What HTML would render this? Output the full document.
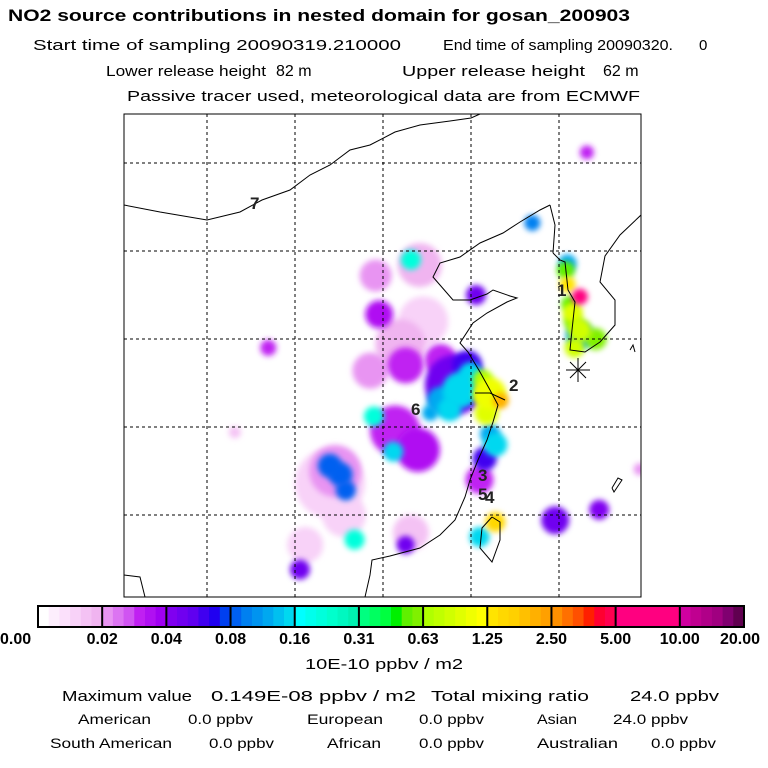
<!DOCTYPE html>
<html><head><meta charset="utf-8"><style>
html,body{margin:0;padding:0;background:#fff;width:768px;height:768px;overflow:hidden}
svg{display:block;font-family:"Liberation Sans",sans-serif}
</style></head><body>
<svg id="chart" width="768" height="768" viewBox="0 0 768 768" xml:space="preserve">
<defs>
<clipPath id="mapclip"><rect x="124" y="114" width="517" height="483"/></clipPath>
<filter id="blur" x="-50%" y="-50%" width="200%" height="200%"><feGaussianBlur stdDeviation="3"/></filter>
</defs>
<g font-size="15">
<text x="8" y="21" font-weight="bold" font-size="16.5" textLength="622" lengthAdjust="spacingAndGlyphs">NO2 source contributions in nested domain for gosan_200903</text>
<text x="33" y="50" textLength="368" lengthAdjust="spacingAndGlyphs">Start time of sampling 20090319.210000</text>
<text x="443" y="50" textLength="230" lengthAdjust="spacingAndGlyphs">End time of sampling 20090320.</text>
<text x="699" y="50">0</text>
<text x="106" y="76" textLength="160" lengthAdjust="spacingAndGlyphs">Lower release height</text>
<text x="276" y="76" font-size="16">82 m</text>
<text x="402" y="76" textLength="183" lengthAdjust="spacingAndGlyphs">Upper release height</text>
<text x="603" y="76" font-size="16">62 m</text>
<text x="127" y="101" textLength="513" lengthAdjust="spacingAndGlyphs">Passive tracer used, meteorological data are from ECMWF</text>
</g>
<g id="plumes" clip-path="url(#mapclip)"></g>
<g clip-path="url(#mapclip)" fill="none" stroke="#000" stroke-width="1">
<polyline points="365,597 370,575 372,560 390,556 420,548 440,535 455,520 465,497 470,480 478,460 487,440 493,422 498,405 490,390 480,372 468,352 460,343 473,323 487,313 507,302 517,298 510,296 493,290 487,294 470,300 453,300 433,277 440,263 460,257 480,243 503,233 520,222 540,210 550,205"/>
<polyline points="553,253 560,260 565,262 568,290 575,302 572,330 570,350 585,352 600,342 615,325 615,300 600,282 605,256 620,235 641,215"/>
<polyline points="124,205 160,212 207,220 240,212 262,200 290,190 310,175 330,165 350,150 370,145 395,132 420,125 450,121 471,118 480,114"/>
<polyline points="550,205 555,225 553,253"/>
<polyline points="492,517 500,522 500,540 492,562 480,548 482,528 492,517"/>
<polyline points="475,393 490,393 505,400"/>
<polyline points="124,575 140,577 145,597"/>
<polyline points="612,488 618,478 622,480 614,492 612,488"/>
<polyline points="630,350 633,345 635,352"/>
</g>
<g stroke="#000" stroke-width="1" stroke-dasharray="3,3">
<line x1="207" y1="114" x2="207" y2="597"/><line x1="295" y1="114" x2="295" y2="597"/><line x1="383" y1="114" x2="383" y2="597"/><line x1="471" y1="114" x2="471" y2="597"/><line x1="559" y1="114" x2="559" y2="597"/>
<line x1="124" y1="163" x2="641" y2="163"/><line x1="124" y1="251" x2="641" y2="251"/><line x1="124" y1="339" x2="641" y2="339"/><line x1="124" y1="427" x2="641" y2="427"/><line x1="124" y1="515" x2="641" y2="515"/>
</g>
<rect x="124" y="114" width="517" height="483" fill="none" stroke="#000" stroke-width="1"/>
<g font-size="17" font-weight="bold" fill="#222">
<text x="557" y="296">1</text>
<text x="509" y="391">2</text>
<text x="478" y="481">3</text>
<text x="478" y="500">5</text>
<text x="485" y="503">4</text>
<text x="411" y="415">6</text>
<text x="250" y="209">7</text>
</g>
<g stroke="#000" stroke-width="1">
<line x1="566" y1="370" x2="590" y2="370"/><line x1="578" y1="358" x2="578" y2="382"/><line x1="570" y1="362" x2="586" y2="378"/><line x1="586" y1="362" x2="570" y2="378"/>
</g>
<g id="colorbar"></g>
<g id="cbticks" font-size="16" font-weight="bold"></g>
<g font-size="15">
<text x="384" y="669" text-anchor="middle" textLength="158" lengthAdjust="spacingAndGlyphs">10E-10 ppbv / m2</text>
<text x="62" y="701" textLength="130" lengthAdjust="spacingAndGlyphs">Maximum value</text>
<text x="211" y="701" textLength="205" lengthAdjust="spacingAndGlyphs">0.149E-08 ppbv / m2</text>
<text x="431" y="701" textLength="158" lengthAdjust="spacingAndGlyphs">Total mixing ratio</text>
<text x="630" y="701" textLength="89" lengthAdjust="spacingAndGlyphs">24.0 ppbv</text>
</g>
<g font-size="13.5">
<text x="78" y="724" textLength="73" lengthAdjust="spacingAndGlyphs">American</text>
<text x="188" y="724" textLength="65" lengthAdjust="spacingAndGlyphs">0.0 ppbv</text>
<text x="307" y="724" textLength="76" lengthAdjust="spacingAndGlyphs">European</text>
<text x="419" y="724" textLength="65" lengthAdjust="spacingAndGlyphs">0.0 ppbv</text>
<text x="537" y="724" textLength="40" lengthAdjust="spacingAndGlyphs">Asian</text>
<text x="613" y="724" textLength="75" lengthAdjust="spacingAndGlyphs">24.0 ppbv</text>
<text x="50" y="748" textLength="122" lengthAdjust="spacingAndGlyphs">South American</text>
<text x="209" y="748" textLength="65" lengthAdjust="spacingAndGlyphs">0.0 ppbv</text>
<text x="327" y="748" textLength="54" lengthAdjust="spacingAndGlyphs">African</text>
<text x="419" y="748" textLength="65" lengthAdjust="spacingAndGlyphs">0.0 ppbv</text>
<text x="537" y="748" textLength="81" lengthAdjust="spacingAndGlyphs">Australian</text>
<text x="651" y="748" textLength="65" lengthAdjust="spacingAndGlyphs">0.0 ppbv</text>
</g>
</svg>
<script>
// Colorbar data
const tickLabels = ["0.00","0.02","0.04","0.08","0.16","0.31","0.63","1.25","2.50","5.00","10.00","20.00"];
const tickValues = [0,0.02,0.04,0.08,0.16,0.31,0.63,1.25,2.5,5,10,20];
const binColors = [
"#ffffff","#fdeefd","#fbe0fb","#f8d2f8","#f4c2f4","#f0b4f0",
"#e894f2","#dc74f2","#d054f2","#c020f2","#b010f2","#a000f2",
"#8000f0","#7000f0","#6000f0","#4000f0","#2000f0","#0040f0",
"#0060f0","#0080f0","#0094f0","#00a8f0","#00c0f0","#00d8f0",
"#00ffff","#00ffec","#00ffdc","#00ffcc","#00f8c0","#00f0b0",
"#00ff80","#00ff60","#00ff40","#00f000","#60f000","#80f000",
"#b0ff00","#c0ff00","#d0ff00","#e0ff00","#f0ff00","#ffff00",
"#ffe400","#ffd800","#ffd000","#ffc000","#ffb000","#ffa000",
"#ff9000","#ff7000","#ff5000","#ff2000","#ff0030","#ff0050",
"#ff0080","#ff0080","#ff0080","#ff0080","#ff0080","#ff0080",
"#d000a0","#c00090","#b00088","#a00080","#800070","#600050"];
// Plume data: longitude, latitude, concentration (10E-10 ppbv/m2), spread
const plumeLon = [116.8,114.3,114.5,117.0,115.7,114.0,116.0,118.0,111.7,112.5,115.4,116.7,118.8,120.2,124.5,127.0,120.0,110.3,116.3,116.0,112.0,119.5,
  111.7,112.3,112.6,116.3,114.2,115.3,119.1,118.0,119.7,121.1,120.8,120.5,118.5,117.4,120.5,120.8,121.4,120.6,120.4,126.3,108.2,129.3,106.3,123.2,
  125.2,125.9,125.1,125.9,126.8,125.6,125.2,125.9,125.5,125.3,125.5,121.1,120.2,113.1,110.0];
const plumeLat = [39.2,38.6,36.4,36.0,34.7,33.2,33.5,33.8,26.8,25.0,29.8,28.7,32.4,27.0,24.7,25.3,37.5,23.3,24.0,23.3,27.5,33.5,
  27.8,27.3,26.4,39.5,30.6,28.6,32.1,31.5,33.0,29.0,29.6,28.2,31.0,30.8,31.8,31.9,31.5,30.8,32.7,45.6,34.5,27.6,29.7,41.6,
  39.3,35.2,38.9,35.5,35.0,34.5,38.1,37.4,36.5,37.0,36.0,24.6,23.75,23.6,21.9];
const plumeVal = [0.018,0.02,0.035,0.012,0.018,0.022,0.03,0.03,0.012,0.012,0.03,0.035,0.05,0.03,0.05,0.04,0.045,0.012,0.015,0.05,0.02,0.06,
  0.08,0.08,0.08,0.2,0.2,0.15,0.15,0.12,0.15,0.15,0.12,0.06,0.15,0.12,0.8,1.0,2.0,0.9,0.7,0.03,0.03,0.02,0.015,0.1,
  0.12,0.12,0.5,0.8,0.6,0.8,1.3,8.0,0.9,0.5,0.6,1.5,0.15,0.2,0.05];
const plumeSpread = [22,16,14,25,25,18,18,16,35,22,25,22,30,14,14,10,10,18,18,9,26,15,
  12,12,10,10,10,10,18,14,12,12,10,12,12,8,11,16,8,12,10,7,8,6,6,8,
  9,14,9,12,11,10,8,8,10,8,9,10,10,10,10];

const NS='http://www.w3.org/2000/svg';
const mapX0=124, pxPerDeg=17.6;
function xOf(lon){return mapX0+(lon-100)*pxPerDeg;}
function yOf(lat){return 515-(lat-25)*pxPerDeg;}
function colorOf(v){
  if(v<=0) return binColors[0];
  for(let i=0;i<tickValues.length-1;i++){
    if(v<tickValues[i+1]){
      const lo=Math.max(tickValues[i],tickValues[1]/64), hi=tickValues[i+1];
      let f = i===0 ? v/hi : Math.log(v/lo)/Math.log(hi/lo);
      const sub=Math.min(5,Math.max(0,Math.floor(f*6)));
      return binColors[i*6+sub];
    }
  }
  return binColors[binColors.length-1];
}
const g=document.getElementById('plumes');
const order=plumeVal.map((v,i)=>i).sort((a,b)=>plumeVal[a]-plumeVal[b]);
order.forEach(i=>{
  const c=document.createElementNS(NS,'circle');
  c.setAttribute('cx',xOf(plumeLon[i]));
  c.setAttribute('cy',yOf(plumeLat[i]));
  c.setAttribute('r',plumeSpread[i]);
  c.setAttribute('fill',colorOf(plumeVal[i]));
  c.setAttribute('filter','url(#blur)');
  
  
  g.appendChild(c);
});
// colorbar
const cb=document.getElementById('colorbar');
const cbX=38, cbW=706, cbY=606, cbH=21;
const segW=cbW/(tickLabels.length-1);
binColors.forEach((col,i)=>{
  const r=document.createElementNS(NS,'rect');
  r.setAttribute('x',cbX+i*segW/6);
  r.setAttribute('y',cbY);
  r.setAttribute('width',segW/6+0.6);
  r.setAttribute('height',cbH);
  r.setAttribute('fill',col);
  
  
  cb.appendChild(r);
});
const tk=document.getElementById('cbticks');
tickLabels.forEach((t,i)=>{
  const x=cbX+i*segW;
  if(i>0&&i<tickLabels.length-1){
    const l=document.createElementNS(NS,'line');
    l.setAttribute('x1',x);l.setAttribute('x2',x);l.setAttribute('y1',cbY);l.setAttribute('y2',cbY+cbH);
    l.setAttribute('stroke','#000');l.setAttribute('stroke-width','2');
    
    
    cb.appendChild(l);
  }
  const tx=document.createElementNS(NS,'text');
  const last=i===tickLabels.length-1;
  tx.setAttribute('x',i===0?0:(last?760:x));
  tx.setAttribute('y',644);
  tx.setAttribute('text-anchor',i===0?'start':(last?'end':'middle'));
  tx.textContent=t;
  
  
  tk.appendChild(tx);
});
const fr=document.createElementNS(NS,'rect');
fr.setAttribute('x',cbX);fr.setAttribute('y',cbY);fr.setAttribute('width',cbW);fr.setAttribute('height',cbH);
fr.setAttribute('fill','none');fr.setAttribute('stroke','#000');fr.setAttribute('stroke-width','2');


cb.appendChild(fr);
</script>
</body></html>
